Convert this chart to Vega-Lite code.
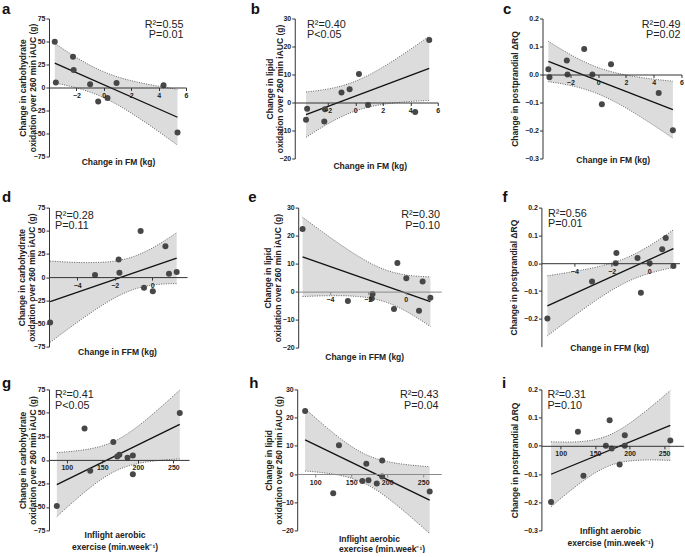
{
  "$schema": "https://vega.github.io/schema/vega-lite/v6.json",
  "padding": {"left": 2, "top": 1.5, "right": 0, "bottom": 0},
  "background": "white",
  "datasets": {
    "subj": [
      {"FM": -3.58, "FFM": -0.62, "EX": 259, "CARB": 49.8, "LIPID": -6.2, "RQ": 0.019},
      {"FM": -3.5, "FFM": 1.3, "EX": 174, "CARB": 5.5, "LIPID": -2.2, "RQ": -0.01},
      {"FM": -2.25, "FFM": 0.7, "EX": 125, "CARB": 33.3, "LIPID": -6.8, "RQ": 0.05},
      {"FM": -2.2, "FFM": -1.79, "EX": 165.5, "CARB": 19.1, "LIPID": -2.45, "RQ": 0.0},
      {"FM": -1.0, "FFM": 0.89, "EX": 171, "CARB": 3.6, "LIPID": 3.6, "RQ": 0.091},
      {"FM": -0.41, "FFM": 0.03, "EX": 193, "CARB": -15.2, "LIPID": 4.75, "RQ": 0.0},
      {"FM": 0.27, "FFM": -0.44, "EX": 133, "CARB": -11.5, "LIPID": 10.2, "RQ": -0.106},
      {"FM": 0.93, "FFM": -1.75, "EX": 193, "CARB": 4.8, "LIPID": -0.9, "RQ": 0.037},
      {"FM": 4.36, "FFM": -3.05, "EX": 185.5, "CARB": 2.4, "LIPID": -3.35, "RQ": -0.066},
      {"FM": 5.38, "FFM": -5.44, "EX": 86, "CARB": -49, "LIPID": 22.35, "RQ": -0.199}
    ],
    "bandFM": [
      {"p": "a", "FM": -3.58, "lo": 4.93, "hi": 47.97},
      {"p": "a", "FM": -2.5, "lo": 1.47, "hi": 37.27},
      {"p": "a", "FM": -1.5, "lo": -2.57, "hi": 28.19},
      {"p": "a", "FM": -0.2, "lo": -9.76, "hi": 18.32},
      {"p": "a", "FM": 1, "lo": -18.78, "hi": 11.6},
      {"p": "a", "FM": 2.5, "lo": -32.58, "hi": 5.72},
      {"p": "a", "FM": 4, "lo": -47.93, "hi": 1.39},
      {"p": "a", "FM": 5.38, "lo": -62.69, "hi": -1.95},
      {"p": "b", "FM": -3.58, "lo": -12.46, "hi": 3.77},
      {"p": "b", "FM": -2.5, "lo": -9.1, "hi": 4.4},
      {"p": "b", "FM": -1.5, "lo": -6.3, "hi": 5.3},
      {"p": "b", "FM": -0.2, "lo": -3.39, "hi": 7.19},
      {"p": "b", "FM": 1, "lo": -1.61, "hi": 9.85},
      {"p": "b", "FM": 2.5, "lo": -0.33, "hi": 14.11},
      {"p": "b", "FM": 4, "lo": 0.37, "hi": 18.96},
      {"p": "b", "FM": 5.38, "lo": 0.76, "hi": 23.66},
      {"p": "c", "FM": -3.58, "lo": -0.0255, "hi": 0.1185},
      {"p": "c", "FM": -2.5, "lo": -0.0341, "hi": 0.0857},
      {"p": "c", "FM": -1.5, "lo": -0.0449, "hi": 0.058},
      {"p": "c", "FM": -0.2, "lo": -0.0654, "hi": 0.0286},
      {"p": "c", "FM": 1, "lo": -0.0923, "hi": 0.0094},
      {"p": "c", "FM": 2.5, "lo": -0.1343, "hi": -0.0062},
      {"p": "c", "FM": 4, "lo": -0.1816, "hi": -0.0166},
      {"p": "c", "FM": 5.38, "lo": -0.2272, "hi": -0.024}
    ],
    "bandFFM": [
      {"p": "d", "FFM": -5.44, "lo": -70.4, "hi": 17.28},
      {"p": "d", "FFM": -4.5, "lo": -56.23, "hi": 16.21},
      {"p": "d", "FFM": -3.5, "lo": -41.69, "hi": 15.63},
      {"p": "d", "FFM": -2.5, "lo": -28.33, "hi": 16.21},
      {"p": "d", "FFM": -1.75, "lo": -19.78, "hi": 18.12},
      {"p": "d", "FFM": -1.017, "lo": -13.47, "hi": 22.03},
      {"p": "d", "FFM": 0, "lo": -8.63, "hi": 31.37},
      {"p": "d", "FFM": 0.6, "lo": -7.46, "hi": 38.58},
      {"p": "d", "FFM": 1.3, "lo": -7.06, "hi": 47.94},
      {"p": "e", "FFM": -5.44, "lo": -1.77, "hi": 26.55},
      {"p": "e", "FFM": -4.5, "lo": -1.54, "hi": 21.86},
      {"p": "e", "FFM": -3.5, "lo": -1.47, "hi": 17.05},
      {"p": "e", "FFM": -2.5, "lo": -1.77, "hi": 12.61},
      {"p": "e", "FFM": -1.75, "lo": -2.48, "hi": 9.76},
      {"p": "e", "FFM": -1.017, "lo": -3.83, "hi": 7.63},
      {"p": "e", "FFM": 0, "lo": -6.97, "hi": 5.95},
      {"p": "e", "FFM": 0.6, "lo": -9.37, "hi": 5.5},
      {"p": "e", "FFM": 1.3, "lo": -12.48, "hi": 5.28},
      {"p": "f", "FFM": -5.44, "lo": -0.2612, "hi": -0.0453},
      {"p": "f", "FFM": -4.5, "lo": -0.2138, "hi": -0.0354},
      {"p": "f", "FFM": -3.5, "lo": -0.1647, "hi": -0.0235},
      {"p": "f", "FFM": -2.5, "lo": -0.1184, "hi": -0.0088},
      {"p": "f", "FFM": -1.75, "lo": -0.0874, "hi": 0.0059},
      {"p": "f", "FFM": -1.017, "lo": -0.0621, "hi": 0.0253},
      {"p": "f", "FFM": 0, "lo": -0.0367, "hi": 0.0619},
      {"p": "f", "FFM": 0.6, "lo": -0.0258, "hi": 0.0876},
      {"p": "f", "FFM": 1.3, "lo": -0.0155, "hi": 0.12}
    ],
    "bandEX": [
      {"p": "g", "EX": 86, "lo": -60.29, "hi": 7.85},
      {"p": "g", "EX": 110, "lo": -44.05, "hi": 9.35},
      {"p": "g", "EX": 135, "lo": -28.32, "hi": 12.12},
      {"p": "g", "EX": 150, "lo": -20.04, "hi": 14.92},
      {"p": "g", "EX": 168.5, "lo": -11.85, "hi": 20.41},
      {"p": "g", "EX": 185, "lo": -6.83, "hi": 27.59},
      {"p": "g", "EX": 200, "lo": -3.86, "hi": 35.72},
      {"p": "g", "EX": 230, "lo": -0.56, "hi": 54.6},
      {"p": "g", "EX": 259, "lo": 1.09, "hi": 74.39},
      {"p": "h", "EX": 86, "lo": 1.05, "hi": 23.11},
      {"p": "h", "EX": 110, "lo": 0.48, "hi": 17.77},
      {"p": "h", "EX": 135, "lo": -0.51, "hi": 12.58},
      {"p": "h", "EX": 150, "lo": -1.48, "hi": 9.84},
      {"p": "h", "EX": 168.5, "lo": -3.32, "hi": 7.12},
      {"p": "h", "EX": 185, "lo": -5.71, "hi": 5.44},
      {"p": "h", "EX": 200, "lo": -8.39, "hi": 4.42},
      {"p": "h", "EX": 230, "lo": -14.62, "hi": 3.24},
      {"p": "h", "EX": 259, "lo": -21.14, "hi": 2.6},
      {"p": "i", "EX": 86, "lo": -0.216, "hi": 0.0142},
      {"p": "i", "EX": 110, "lo": -0.1671, "hi": 0.0133},
      {"p": "i", "EX": 135, "lo": -0.1202, "hi": 0.0164},
      {"p": "i", "EX": 150, "lo": -0.096, "hi": 0.0222},
      {"p": "i", "EX": 168.5, "lo": -0.0729, "hi": 0.0361},
      {"p": "i", "EX": 185, "lo": -0.0601, "hi": 0.0563},
      {"p": "i", "EX": 200, "lo": -0.0538, "hi": 0.08},
      {"p": "i", "EX": 230, "lo": -0.0501, "hi": 0.1363},
      {"p": "i", "EX": 259, "lo": -0.0518, "hi": 0.196}
    ]
  },
  "spacing": 19.1,
  "vconcat": [
    {
      "spacing": 62.75,
      "hconcat": [
        {
          "width": 137, "height": 138,
          "title": {"text": "a", "dx": -47, "dy": 2, "offset": 0},
          "resolve": {"axis": {"x": "independent", "y": "independent"}},
          "layer": [
            {
              "encoding": {
                "x": {"field": "FM", "type": "quantitative", "scale": {"domain": [-4, 6], "nice": false, "zero": false},
                      "axis": {"offset": -69, "values": [-2, 0, 2, 4, 6], "labelOverlap": false, "title": "Change in FM (kg)", "titleX": 69, "titleY": 74, "titleBaseline": "middle", "zindex": 1}},
                "y": {"field": "CARB", "type": "quantitative", "scale": {"domain": [-75, 75], "nice": false, "zero": false},
                      "axis": {"values": [-75, -50, -25, 0, 25, 50, 75], "labelOverlap": false, "title": ["Change in carbohydrate", "oxidation over 260 min iAUC (g)"], "titleX": -26.7, "titleY": 69, "titleBaseline": "middle"}}
              },
              "layer": [
                {"data": {"name": "bandFM"}, "transform": [{"filter": "datum.p === 'a'"}], "mark": {"type": "area", "color": "#dcdcdc", "interpolate": "monotone"}, "encoding": {"y": {"field": "lo", "type": "quantitative"}, "y2": {"field": "hi"}}},
                {"data": {"name": "bandFM"}, "transform": [{"filter": "datum.p === 'a'"}], "mark": {"type": "line", "color": "#555", "strokeWidth": 0.9, "strokeDash": [1, 1.4], "interpolate": "monotone"}, "encoding": {"y": {"field": "lo", "type": "quantitative"}}},
                {"data": {"name": "bandFM"}, "transform": [{"filter": "datum.p === 'a'"}], "mark": {"type": "line", "color": "#555", "strokeWidth": 0.9, "strokeDash": [1, 1.4], "interpolate": "monotone"}, "encoding": {"y": {"field": "hi", "type": "quantitative"}}},
                {"data": {"name": "subj"}, "transform": [{"regression": "CARB", "on": "FM"}], "mark": {"type": "line", "color": "#111", "strokeWidth": 1.3}, "encoding": {}},
                {"data": {"name": "subj"}, "mark": {"type": "circle", "size": 36, "color": "#474747", "opacity": 1}, "encoding": {}}
              ]
            },
            {"data": {"values": [{"t": "R²=0.55\nP=0.01"}]}, "mark": {"type": "text", "align": "right", "baseline": "top", "dx": -2.6, "dy": 0, "lineBreak": "\n", "lineHeight": 10.5, "fontSize": 10.8, "color": "#222"},
             "encoding": {"x": {"datum": 6, "type": "quantitative", "axis": null, "scale": {"domain": [-4, 6], "nice": false, "zero": false}}, "y": {"datum": 75, "type": "quantitative", "axis": null, "scale": {"domain": [-75, 75], "nice": false, "zero": false}}, "text": {"field": "t"}}}
          ]
        },
        {
          "width": 143, "height": 140,
          "title": {"text": "b", "dx": -44, "dy": 2, "offset": 0},
          "resolve": {"axis": {"x": "independent", "y": "independent"}},
          "layer": [
            {
              "encoding": {
                "x": {"field": "FM", "type": "quantitative", "scale": {"domain": [-4.4, 6], "nice": false, "zero": false},
                      "axis": {"offset": -56, "values": [-2, 0, 2, 4, 6], "labelOverlap": false, "title": "Change in FM (kg)", "titleX": 75, "titleY": 62.7, "titleBaseline": "middle", "zindex": 1}},
                "y": {"field": "LIPID", "type": "quantitative", "scale": {"domain": [-20, 30], "nice": false, "zero": false},
                      "axis": {"values": [-20, -10, 0, 10, 20, 30], "labelOverlap": false, "title": ["Change in lipid", "oxidation over 260 min iAUC (g)"], "titleX": -25.35, "titleY": 70, "titleBaseline": "middle"}}
              },
              "layer": [
                {"data": {"name": "bandFM"}, "transform": [{"filter": "datum.p === 'b'"}], "mark": {"type": "area", "color": "#dcdcdc", "interpolate": "monotone"}, "encoding": {"y": {"field": "lo", "type": "quantitative"}, "y2": {"field": "hi"}}},
                {"data": {"name": "bandFM"}, "transform": [{"filter": "datum.p === 'b'"}], "mark": {"type": "line", "color": "#555", "strokeWidth": 0.9, "strokeDash": [1, 1.4], "interpolate": "monotone"}, "encoding": {"y": {"field": "lo", "type": "quantitative"}}},
                {"data": {"name": "bandFM"}, "transform": [{"filter": "datum.p === 'b'"}], "mark": {"type": "line", "color": "#555", "strokeWidth": 0.9, "strokeDash": [1, 1.4], "interpolate": "monotone"}, "encoding": {"y": {"field": "hi", "type": "quantitative"}}},
                {"data": {"name": "subj"}, "transform": [{"regression": "LIPID", "on": "FM"}], "mark": {"type": "line", "color": "#111", "strokeWidth": 1.3}, "encoding": {}},
                {"data": {"name": "subj"}, "mark": {"type": "circle", "size": 36, "color": "#474747", "opacity": 1}, "encoding": {}}
              ]
            },
            {"data": {"values": [{"t": "R²=0.40\nP<0.05"}]}, "mark": {"type": "text", "align": "left", "baseline": "top", "dx": 12.3, "dy": 0, "lineBreak": "\n", "lineHeight": 10.5, "fontSize": 10.8, "color": "#222"},
             "encoding": {"x": {"datum": -4.4, "type": "quantitative", "axis": null, "scale": {"domain": [-4.4, 6], "nice": false, "zero": false}}, "y": {"datum": 30, "type": "quantitative", "axis": null, "scale": {"domain": [-20, 30], "nice": false, "zero": false}}, "text": {"field": "t"}}}
          ]
        },
        {
          "width": 139, "height": 140,
          "title": {"text": "c", "dx": -39.5, "dy": 2, "offset": 0},
          "resolve": {"axis": {"x": "independent", "y": "independent"}},
          "layer": [
            {
              "encoding": {
                "x": {"field": "FM", "type": "quantitative", "scale": {"domain": [-4, 6], "nice": false, "zero": false},
                      "axis": {"offset": -84, "values": [-2, 0, 2, 4, 6], "labelOverlap": false, "title": "Change in FM (kg)", "titleX": 70.2, "titleY": 85.3, "titleBaseline": "middle", "zindex": 1}},
                "y": {"field": "RQ", "type": "quantitative", "scale": {"domain": [-0.3, 0.2], "nice": false, "zero": false},
                      "axis": {"values": [-0.3, -0.2, -0.1, 0, 0.1, 0.2], "labelOverlap": false, "format": ".1f", "title": "Change in postprandial ΔRQ", "titleX": -27.6, "titleY": 70, "titleBaseline": "middle"}}
              },
              "layer": [
                {"data": {"name": "bandFM"}, "transform": [{"filter": "datum.p === 'c'"}], "mark": {"type": "area", "color": "#dcdcdc", "interpolate": "monotone"}, "encoding": {"y": {"field": "lo", "type": "quantitative"}, "y2": {"field": "hi"}}},
                {"data": {"name": "bandFM"}, "transform": [{"filter": "datum.p === 'c'"}], "mark": {"type": "line", "color": "#555", "strokeWidth": 0.9, "strokeDash": [1, 1.4], "interpolate": "monotone"}, "encoding": {"y": {"field": "lo", "type": "quantitative"}}},
                {"data": {"name": "bandFM"}, "transform": [{"filter": "datum.p === 'c'"}], "mark": {"type": "line", "color": "#555", "strokeWidth": 0.9, "strokeDash": [1, 1.4], "interpolate": "monotone"}, "encoding": {"y": {"field": "hi", "type": "quantitative"}}},
                {"data": {"name": "subj"}, "transform": [{"regression": "RQ", "on": "FM"}], "mark": {"type": "line", "color": "#111", "strokeWidth": 1.3}, "encoding": {}},
                {"data": {"name": "subj"}, "mark": {"type": "circle", "size": 36, "color": "#474747", "opacity": 1}, "encoding": {}}
              ]
            },
            {"data": {"values": [{"t": "R²=0.49\nP=0.02"}]}, "mark": {"type": "text", "align": "right", "baseline": "top", "dx": -1, "dy": 0, "lineBreak": "\n", "lineHeight": 10.5, "fontSize": 10.8, "color": "#222"},
             "encoding": {"x": {"datum": 6, "type": "quantitative", "axis": null, "scale": {"domain": [-4, 6], "nice": false, "zero": false}}, "y": {"datum": 0.2, "type": "quantitative", "axis": null, "scale": {"domain": [-0.3, 0.2], "nice": false, "zero": false}}, "text": {"field": "t"}}}
          ]
        }
      ]
    },
    {
      "spacing": 14.8,
      "vconcat": [
        {
          "spacing": 61.2,
          "hconcat": [
            {
              "width": 138, "height": 139,
              "title": {"text": "d", "dx": -47, "dy": 5},
              "resolve": {"axis": {"x": "independent", "y": "independent"}},
              "layer": [
                {
                  "encoding": {
                    "x": {"field": "FFM", "type": "quantitative", "scale": {"domain": [-5.5, 1.85], "nice": false, "zero": false},
                          "axis": {"offset": -69.5, "values": [-4, -2, 0], "labelOverlap": false, "title": "Change in FFM (kg)", "titleX": 68, "titleY": 73.9, "titleBaseline": "middle", "zindex": 1}},
                    "y": {"field": "CARB", "type": "quantitative", "scale": {"domain": [-75, 75], "nice": false, "zero": false},
                          "axis": {"values": [-75, -50, -25, 0, 25, 50, 75], "labelOverlap": false, "title": ["Change in carbohydrate", "oxidation over 260 min iAUC (g)"], "titleX": -27.65, "titleY": 69.5, "titleBaseline": "middle"}}
                  },
                  "layer": [
                    {"data": {"name": "bandFFM"}, "transform": [{"filter": "datum.p === 'd'"}], "mark": {"type": "area", "color": "#dcdcdc", "interpolate": "monotone"}, "encoding": {"y": {"field": "lo", "type": "quantitative"}, "y2": {"field": "hi"}}},
                    {"data": {"name": "bandFFM"}, "transform": [{"filter": "datum.p === 'd'"}], "mark": {"type": "line", "color": "#555", "strokeWidth": 0.9, "strokeDash": [1, 1.4], "interpolate": "monotone"}, "encoding": {"y": {"field": "lo", "type": "quantitative"}}},
                    {"data": {"name": "bandFFM"}, "transform": [{"filter": "datum.p === 'd'"}], "mark": {"type": "line", "color": "#555", "strokeWidth": 0.9, "strokeDash": [1, 1.4], "interpolate": "monotone"}, "encoding": {"y": {"field": "hi", "type": "quantitative"}}},
                    {"data": {"name": "subj"}, "transform": [{"regression": "CARB", "on": "FFM"}], "mark": {"type": "line", "color": "#111", "strokeWidth": 1.3}, "encoding": {}},
                    {"data": {"name": "subj"}, "mark": {"type": "circle", "size": 36, "color": "#474747", "opacity": 1}, "encoding": {}}
                  ]
                },
                {"data": {"values": [{"t": "R²=0.28\nP=0.11"}]}, "mark": {"type": "text", "align": "left", "baseline": "top", "dx": 6, "dy": 2, "lineBreak": "\n", "lineHeight": 10.5, "fontSize": 10.8, "color": "#222"},
                 "encoding": {"x": {"datum": -5.5, "type": "quantitative", "axis": null, "scale": {"domain": [-5.5, 1.85], "nice": false, "zero": false}}, "y": {"datum": 75, "type": "quantitative", "axis": null, "scale": {"domain": [-75, 75], "nice": false, "zero": false}}, "text": {"field": "t"}}}
              ]
            },
            {
              "width": 143, "height": 140,
              "title": {"text": "e", "dx": -50, "dy": 5},
              "resolve": {"axis": {"x": "independent", "y": "independent"}},
              "layer": [
                {
                  "encoding": {
                    "x": {"field": "FFM", "type": "quantitative", "scale": {"domain": [-5.67, 1.87], "nice": false, "zero": false},
                          "axis": {"offset": -56, "values": [-4, -2, 0], "labelOverlap": false, "title": "Change in FFM (kg)", "titleX": 66, "titleY": 65, "titleBaseline": "middle", "zindex": 1, "domainColor": "#8a8a8a", "tickColor": "#8a8a8a"}},
                    "y": {"field": "LIPID", "type": "quantitative", "scale": {"domain": [-20, 30], "nice": false, "zero": false},
                          "axis": {"values": [-20, -10, 0, 10, 20, 30], "labelOverlap": false, "title": ["Change in lipid", "oxidation over 260 min iAUC (g)"], "titleX": -30.35, "titleY": 70, "titleBaseline": "middle"}}
                  },
                  "layer": [
                    {"data": {"name": "bandFFM"}, "transform": [{"filter": "datum.p === 'e'"}], "mark": {"type": "area", "color": "#dcdcdc", "interpolate": "monotone"}, "encoding": {"y": {"field": "lo", "type": "quantitative"}, "y2": {"field": "hi"}}},
                    {"data": {"name": "bandFFM"}, "transform": [{"filter": "datum.p === 'e'"}], "mark": {"type": "line", "color": "#555", "strokeWidth": 0.9, "strokeDash": [1, 1.4], "interpolate": "monotone"}, "encoding": {"y": {"field": "lo", "type": "quantitative"}}},
                    {"data": {"name": "bandFFM"}, "transform": [{"filter": "datum.p === 'e'"}], "mark": {"type": "line", "color": "#555", "strokeWidth": 0.9, "strokeDash": [1, 1.4], "interpolate": "monotone"}, "encoding": {"y": {"field": "hi", "type": "quantitative"}}},
                    {"data": {"name": "subj"}, "transform": [{"regression": "LIPID", "on": "FFM"}], "mark": {"type": "line", "color": "#111", "strokeWidth": 1.3}, "encoding": {}},
                    {"data": {"name": "subj"}, "mark": {"type": "circle", "size": 36, "color": "#474747", "opacity": 1}, "encoding": {}}
                  ]
                },
                {"data": {"values": [{"t": "R²=0.30\nP=0.10"}]}, "mark": {"type": "text", "align": "right", "baseline": "top", "dx": -1.3, "dy": 1.7, "lineBreak": "\n", "lineHeight": 10.5, "fontSize": 10.8, "color": "#222"},
                 "encoding": {"x": {"datum": 1.87, "type": "quantitative", "axis": null, "scale": {"domain": [-5.67, 1.87], "nice": false, "zero": false}}, "y": {"datum": 30, "type": "quantitative", "axis": null, "scale": {"domain": [-20, 30], "nice": false, "zero": false}}, "text": {"field": "t"}}}
              ]
            },
            {
              "width": 138, "height": 139,
              "title": {"text": "f", "dx": -39, "dy": 5},
              "resolve": {"axis": {"x": "independent", "y": "independent"}},
              "layer": [
                {
                  "encoding": {
                    "x": {"field": "FFM", "type": "quantitative", "scale": {"domain": [-5.76, 1.62], "nice": false, "zero": false},
                          "axis": {"offset": -83.4, "values": [-4, -2, 0], "labelOverlap": false, "title": "Change in FFM (kg)", "titleX": 67.8, "titleY": 84.6, "titleBaseline": "middle", "zindex": 1}},
                    "y": {"field": "RQ", "type": "quantitative", "scale": {"domain": [-0.3, 0.2], "nice": false, "zero": false},
                          "axis": {"values": [-0.2, -0.1, 0, 0.1, 0.2], "labelOverlap": false, "format": ".1f", "title": "Change in postprandial ΔRQ", "titleX": -27.7, "titleY": 69.5, "titleBaseline": "middle"}}
                  },
                  "layer": [
                    {"data": {"name": "bandFFM"}, "transform": [{"filter": "datum.p === 'f'"}], "mark": {"type": "area", "color": "#dcdcdc", "interpolate": "monotone"}, "encoding": {"y": {"field": "lo", "type": "quantitative"}, "y2": {"field": "hi"}}},
                    {"data": {"name": "bandFFM"}, "transform": [{"filter": "datum.p === 'f'"}], "mark": {"type": "line", "color": "#555", "strokeWidth": 0.9, "strokeDash": [1, 1.4], "interpolate": "monotone"}, "encoding": {"y": {"field": "lo", "type": "quantitative"}}},
                    {"data": {"name": "bandFFM"}, "transform": [{"filter": "datum.p === 'f'"}], "mark": {"type": "line", "color": "#555", "strokeWidth": 0.9, "strokeDash": [1, 1.4], "interpolate": "monotone"}, "encoding": {"y": {"field": "hi", "type": "quantitative"}}},
                    {"data": {"name": "subj"}, "transform": [{"regression": "RQ", "on": "FFM"}], "mark": {"type": "line", "color": "#111", "strokeWidth": 1.3}, "encoding": {}},
                    {"data": {"name": "subj"}, "mark": {"type": "circle", "size": 36, "color": "#474747", "opacity": 1}, "encoding": {}}
                  ]
                },
                {"data": {"values": [{"t": "R²=0.56\nP=0.01"}]}, "mark": {"type": "text", "align": "left", "baseline": "top", "dx": 6.6, "dy": 0, "lineBreak": "\n", "lineHeight": 10.5, "fontSize": 10.8, "color": "#222"},
                 "encoding": {"x": {"datum": -5.76, "type": "quantitative", "axis": null, "scale": {"domain": [-5.76, 1.62], "nice": false, "zero": false}}, "y": {"datum": 0.2, "type": "quantitative", "axis": null, "scale": {"domain": [-0.3, 0.2], "nice": false, "zero": false}}, "text": {"field": "t"}}}
              ]
            }
          ]
        },
        {
          "spacing": 60.2,
          "hconcat": [
            {
              "width": 140, "height": 141,
              "title": {"text": "g", "dx": -47, "dy": 10},
              "resolve": {"axis": {"x": "independent", "y": "independent"}},
              "layer": [
                {
                  "encoding": {
                    "x": {"field": "EX", "type": "quantitative", "scale": {"domain": [75, 272], "nice": false, "zero": false},
                          "axis": {"offset": -70.5, "values": [100, 150, 200, 250], "labelOverlap": false, "title": ["Inflight aerobic", "exercise (min.week⁻¹)"], "titleX": 65.5, "titleY": 74.6, "titleBaseline": "middle", "titleLineHeight": 11.6, "zindex": 1}},
                    "y": {"field": "CARB", "type": "quantitative", "scale": {"domain": [-75, 75], "nice": false, "zero": false},
                          "axis": {"values": [-75, -50, -25, 0, 25, 50, 75], "labelOverlap": false, "title": ["Change in carbohydrate", "oxidation over 260 min iAUC (g)"], "titleX": -27, "titleY": 70.5, "titleBaseline": "middle"}}
                  },
                  "layer": [
                    {"data": {"name": "bandEX"}, "transform": [{"filter": "datum.p === 'g'"}], "mark": {"type": "area", "color": "#dcdcdc", "interpolate": "monotone"}, "encoding": {"y": {"field": "lo", "type": "quantitative"}, "y2": {"field": "hi"}}},
                    {"data": {"name": "bandEX"}, "transform": [{"filter": "datum.p === 'g'"}], "mark": {"type": "line", "color": "#555", "strokeWidth": 0.9, "strokeDash": [1, 1.4], "interpolate": "monotone"}, "encoding": {"y": {"field": "lo", "type": "quantitative"}}},
                    {"data": {"name": "bandEX"}, "transform": [{"filter": "datum.p === 'g'"}], "mark": {"type": "line", "color": "#555", "strokeWidth": 0.9, "strokeDash": [1, 1.4], "interpolate": "monotone"}, "encoding": {"y": {"field": "hi", "type": "quantitative"}}},
                    {"data": {"name": "subj"}, "transform": [{"regression": "CARB", "on": "EX"}], "mark": {"type": "line", "color": "#111", "strokeWidth": 1.3}, "encoding": {}},
                    {"data": {"name": "subj"}, "mark": {"type": "circle", "size": 36, "color": "#474747", "opacity": 1}, "encoding": {}}
                  ]
                },
                {"data": {"values": [{"t": "R²=0.41\nP<0.05"}]}, "mark": {"type": "text", "align": "left", "baseline": "top", "dx": 6, "dy": 0, "lineBreak": "\n", "lineHeight": 10.5, "fontSize": 10.8, "color": "#222"},
                 "encoding": {"x": {"datum": 75, "type": "quantitative", "axis": null, "scale": {"domain": [75, 272], "nice": false, "zero": false}}, "y": {"datum": 75, "type": "quantitative", "axis": null, "scale": {"domain": [-75, 75], "nice": false, "zero": false}}, "text": {"field": "t"}}}
              ]
            },
            {
              "width": 144, "height": 141,
              "title": {"text": "h", "dx": -48, "dy": 10},
              "resolve": {"axis": {"x": "independent", "y": "independent"}},
              "layer": [
                {
                  "encoding": {
                    "x": {"field": "EX", "type": "quantitative", "scale": {"domain": [75, 275], "nice": false, "zero": false},
                          "axis": {"offset": -56.4, "values": [100, 150, 200, 250], "labelOverlap": false, "title": ["Inflight aerobic", "exercise (min.week⁻¹)"], "titleAlign": "left", "titleX": 41.3, "titleY": 64, "titleBaseline": "middle", "titleLineHeight": 10, "zindex": 1, "domainColor": "#8a8a8a", "tickColor": "#8a8a8a"}},
                    "y": {"field": "LIPID", "type": "quantitative", "scale": {"domain": [-20, 30], "nice": false, "zero": false},
                          "axis": {"values": [-20, -10, 0, 10, 20, 30], "labelOverlap": false, "title": ["Change in lipid", "oxidation over 260 min iAUC (g)"], "titleX": -28.7, "titleY": 70.5, "titleBaseline": "middle"}}
                  },
                  "layer": [
                    {"data": {"name": "bandEX"}, "transform": [{"filter": "datum.p === 'h'"}], "mark": {"type": "area", "color": "#dcdcdc", "interpolate": "monotone"}, "encoding": {"y": {"field": "lo", "type": "quantitative"}, "y2": {"field": "hi"}}},
                    {"data": {"name": "bandEX"}, "transform": [{"filter": "datum.p === 'h'"}], "mark": {"type": "line", "color": "#555", "strokeWidth": 0.9, "strokeDash": [1, 1.4], "interpolate": "monotone"}, "encoding": {"y": {"field": "lo", "type": "quantitative"}}},
                    {"data": {"name": "bandEX"}, "transform": [{"filter": "datum.p === 'h'"}], "mark": {"type": "line", "color": "#555", "strokeWidth": 0.9, "strokeDash": [1, 1.4], "interpolate": "monotone"}, "encoding": {"y": {"field": "hi", "type": "quantitative"}}},
                    {"data": {"name": "subj"}, "transform": [{"regression": "LIPID", "on": "EX"}], "mark": {"type": "line", "color": "#111", "strokeWidth": 1.3}, "encoding": {}},
                    {"data": {"name": "subj"}, "mark": {"type": "circle", "size": 36, "color": "#474747", "opacity": 1}, "encoding": {}}
                  ]
                },
                {"data": {"values": [{"t": "R²=0.43\nP=0.04"}]}, "mark": {"type": "text", "align": "right", "baseline": "top", "dx": -2.6, "dy": 0, "lineBreak": "\n", "lineHeight": 10.5, "fontSize": 10.8, "color": "#222"},
                 "encoding": {"x": {"datum": 275, "type": "quantitative", "axis": null, "scale": {"domain": [75, 275], "nice": false, "zero": false}}, "y": {"datum": 30, "type": "quantitative", "axis": null, "scale": {"domain": [-20, 30], "nice": false, "zero": false}}, "text": {"field": "t"}}}
              ]
            },
            {
              "width": 142, "height": 141,
              "title": {"text": "i", "dx": -39.5, "dy": 10},
              "resolve": {"axis": {"x": "independent", "y": "independent"}},
              "layer": [
                {
                  "encoding": {
                    "x": {"field": "EX", "type": "quantitative", "scale": {"domain": [72, 278], "nice": false, "zero": false},
                          "axis": {"offset": -84.6, "values": [100, 150, 200, 250], "labelOverlap": false, "title": ["Inflight aerobic", "exercise (min.week⁻¹)"], "titleX": 68.6, "titleY": 84.3, "titleBaseline": "middle", "titleLineHeight": 12.6, "zindex": 1}},
                    "y": {"field": "RQ", "type": "quantitative", "scale": {"domain": [-0.3, 0.2], "nice": false, "zero": false},
                          "axis": {"values": [-0.3, -0.2, -0.1, 0, 0.1, 0.2], "labelOverlap": false, "format": ".1f", "title": "Change in postprandial ΔRQ", "titleX": -26.9, "titleY": 70.5, "titleBaseline": "middle"}}
                  },
                  "layer": [
                    {"data": {"name": "bandEX"}, "transform": [{"filter": "datum.p === 'i'"}], "mark": {"type": "area", "color": "#dcdcdc", "interpolate": "monotone"}, "encoding": {"y": {"field": "lo", "type": "quantitative"}, "y2": {"field": "hi"}}},
                    {"data": {"name": "bandEX"}, "transform": [{"filter": "datum.p === 'i'"}], "mark": {"type": "line", "color": "#555", "strokeWidth": 0.9, "strokeDash": [1, 1.4], "interpolate": "monotone"}, "encoding": {"y": {"field": "lo", "type": "quantitative"}}},
                    {"data": {"name": "bandEX"}, "transform": [{"filter": "datum.p === 'i'"}], "mark": {"type": "line", "color": "#555", "strokeWidth": 0.9, "strokeDash": [1, 1.4], "interpolate": "monotone"}, "encoding": {"y": {"field": "hi", "type": "quantitative"}}},
                    {"data": {"name": "subj"}, "transform": [{"regression": "RQ", "on": "EX"}], "mark": {"type": "line", "color": "#111", "strokeWidth": 1.3}, "encoding": {}},
                    {"data": {"name": "subj"}, "mark": {"type": "circle", "size": 36, "color": "#474747", "opacity": 1}, "encoding": {}}
                  ]
                },
                {"data": {"values": [{"t": "R²=0.31\nP=0.10"}]}, "mark": {"type": "text", "align": "left", "baseline": "top", "dx": 6, "dy": 0, "lineBreak": "\n", "lineHeight": 10.5, "fontSize": 10.8, "color": "#222"},
                 "encoding": {"x": {"datum": 72, "type": "quantitative", "axis": null, "scale": {"domain": [72, 278], "nice": false, "zero": false}}, "y": {"datum": 0.2, "type": "quantitative", "axis": null, "scale": {"domain": [-0.3, 0.2], "nice": false, "zero": false}}, "text": {"field": "t"}}}
              ]
            }
          ]
        }
      ]
    }
  ],
  "config": {
    "view": {"stroke": null},
    "font": "Liberation Sans",
    "axis": {
      "labelFont": "Liberation Sans", "labelFontSize": 7, "labelFontWeight": "bold", "labelColor": "#222",
      "labelPadding": 1, "labelFlush": false, "labelOverlap": false,
      "titleFont": "Liberation Sans", "titleFontSize": 8.5, "titleFontWeight": "bold", "titleColor": "#222",
      "titleLineHeight": 10,
      "domainColor": "#333", "domainWidth": 1, "tickColor": "#333", "tickWidth": 1, "tickSize": 3, "grid": false
    },
    "title": {"font": "Liberation Sans", "fontSize": 15, "fontWeight": "bold", "color": "#111", "anchor": "start", "frame": "group", "offset": 0},
    "text": {"font": "Liberation Sans"}
  }
}
